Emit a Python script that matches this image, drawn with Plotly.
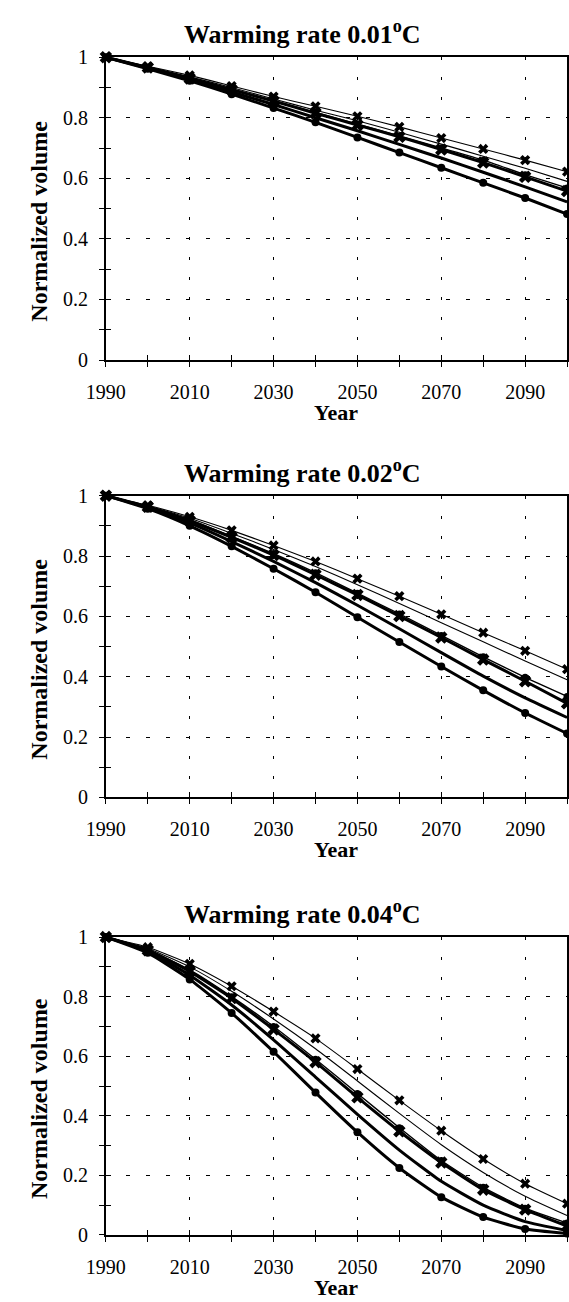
import plotly.graph_objects as go

# ---------------- data ----------------
years = [1990, 2000, 2010, 2020, 2030, 2040, 2050, 2060, 2070, 2080, 2090, 2100]
rates = ["0.01", "0.02", "0.04"]

# Warming rate 0.01 C
r1_thin_x = [1, 0.970, 0.940, 0.905, 0.870, 0.838, 0.805, 0.770, 0.733, 0.697, 0.660, 0.622]
r1_thin = [1, 0.968, 0.935, 0.900, 0.862, 0.825, 0.790, 0.752, 0.713, 0.673, 0.633, 0.590]
r1_thin_dot = [1, 0.967, 0.932, 0.895, 0.857, 0.818, 0.779, 0.740, 0.700, 0.660, 0.612, 0.568]
r1_thick_x = [1, 0.966, 0.930, 0.893, 0.855, 0.815, 0.776, 0.737, 0.695, 0.652, 0.605, 0.558]
r1_thick = [1, 0.964, 0.926, 0.885, 0.844, 0.800, 0.757, 0.712, 0.667, 0.620, 0.572, 0.522]
r1_thick_dot = [1, 0.962, 0.922, 0.878, 0.832, 0.785, 0.735, 0.685, 0.635, 0.585, 0.535, 0.482]

# Warming rate 0.02 C
r2_thin_x = [1, 0.968, 0.930, 0.885, 0.835, 0.782, 0.725, 0.667, 0.607, 0.546, 0.486, 0.425]
r2_thin = [1, 0.966, 0.925, 0.875, 0.822, 0.765, 0.705, 0.643, 0.579, 0.516, 0.452, 0.390]
r2_thin_dot = [1, 0.964, 0.920, 0.865, 0.808, 0.745, 0.677, 0.608, 0.537, 0.466, 0.398, 0.335]
r2_thick_x = [1, 0.963, 0.917, 0.862, 0.803, 0.738, 0.671, 0.601, 0.530, 0.457, 0.385, 0.312]
r2_thick = [1, 0.960, 0.910, 0.848, 0.782, 0.712, 0.637, 0.559, 0.480, 0.402, 0.330, 0.265]
r2_thick_dot = [1, 0.957, 0.900, 0.832, 0.758, 0.680, 0.597, 0.515, 0.434, 0.355, 0.280, 0.212]

# Warming rate 0.04 C
r3_thin_x = [1, 0.966, 0.910, 0.835, 0.750, 0.660, 0.557, 0.452, 0.350, 0.255, 0.172, 0.105]
r3_thin = [1, 0.962, 0.900, 0.818, 0.725, 0.625, 0.517, 0.408, 0.303, 0.210, 0.130, 0.065]
r3_thin_dot = [1, 0.958, 0.890, 0.800, 0.700, 0.590, 0.475, 0.360, 0.250, 0.160, 0.090, 0.040]
r3_thick_x = [1, 0.956, 0.885, 0.795, 0.690, 0.580, 0.462, 0.348, 0.243, 0.152, 0.085, 0.030]
r3_thick = [1, 0.952, 0.872, 0.772, 0.655, 0.530, 0.405, 0.285, 0.180, 0.100, 0.045, 0.015]
r3_thick_dot = [1, 0.947, 0.858, 0.745, 0.615, 0.478, 0.345, 0.225, 0.127, 0.060, 0.020, 0.005]

panels = [
    [r1_thin_x, r1_thin, r1_thin_dot, r1_thick_x, r1_thick, r1_thick_dot],
    [r2_thin_x, r2_thin, r2_thin_dot, r2_thick_x, r2_thick, r2_thick_dot],
    [r3_thin_x, r3_thin, r3_thin_dot, r3_thick_x, r3_thick, r3_thick_dot],
]

# ---------------- styling ----------------
W, H = 569, 1302
FONT = "Liberation Serif"
styles = [
    dict(width=1.1, symbol="x", size=9, mode="lines+markers"),
    dict(width=1.1, symbol="circle", size=0, mode="lines"),
    dict(width=1.4, symbol="circle", size=7, mode="lines+markers"),
    dict(width=3.0, symbol="x", size=11, mode="lines+markers"),
    dict(width=3.0, symbol="circle", size=0, mode="lines"),
    dict(width=3.0, symbol="circle", size=8, mode="lines+markers"),
]
# pixel positions (top = value 1, bottom = value 0) of each plot area
plot_px = [(47, 355), (493, 800), (942, 1245)]
x_left, x_right = 89, 567

fig = go.Figure()
annotations = []
layout = {}

for i, series in enumerate(panels):
    n = i + 1
    xs = "x" if n == 1 else f"x{n}"
    ys = "y" if n == 1 else f"y{n}"
    for vals, st in zip(series, styles):
        fig.add_trace(go.Scatter(
            x=years, y=vals, mode=st["mode"], xaxis=xs, yaxis=ys,
            line=dict(color="black", width=st["width"], shape="spline", smoothing=0.5),
            marker=dict(color="black", symbol=st["symbol"], size=st["size"], line=dict(width=0)),
            cliponaxis=False, showlegend=False, hoverinfo="skip",
        ))
    # empty trace for inside-tick overlay axes
    ox = n + 3
    fig.add_trace(go.Scatter(x=[], y=[], xaxis=f"x{ox}", yaxis=f"y{ox}",
                             showlegend=False, hoverinfo="skip"))

    top, bot = plot_px[i]
    ydom = [1 - bot / H, 1 - top / H]
    xdom = [x_left / W, x_right / W]

    xkey = "xaxis" if n == 1 else f"xaxis{n}"
    ykey = "yaxis" if n == 1 else f"yaxis{n}"
    layout[xkey] = dict(
        domain=xdom, anchor=ys, range=[1990, 2100], tick0=1990, dtick=20,
        ticks="outside", ticklen=5, tickwidth=1.2, tickcolor="black",
        showline=True, linecolor="black", linewidth=1.6, mirror=True,
        showgrid=True, gridcolor="black", gridwidth=1, griddash="3px,17px",
        zeroline=False, ticklabelstandoff=8,
        tickfont=dict(family=FONT, size=20, color="black"),
        minor=dict(dtick=10, ticks="outside", ticklen=5, tickcolor="black", showgrid=False),
    )
    layout[ykey] = dict(
        domain=ydom, anchor=xs, range=[0, 1], tick0=0, dtick=0.2,
        ticks="outside", ticklen=5, tickwidth=1.2, tickcolor="black",
        showline=True, linecolor="black", linewidth=1.6, mirror=True,
        showgrid=True, gridcolor="black", gridwidth=1, griddash="4px,16px",
        zeroline=False, ticklabelstandoff=7,
        tickfont=dict(family=FONT, size=20, color="black"),
        minor=dict(dtick=0.1, ticks="outside", ticklen=5, tickcolor="black", showgrid=False),
    )
    # overlay axes providing the inner half of crossing ticks
    layout[f"xaxis{ox}"] = dict(
        overlaying=xs, anchor=f"y{ox}", range=[1990, 2100], tick0=1990, dtick=10,
        ticks="inside", ticklen=5, tickwidth=1.2, tickcolor="black", showticklabels=False,
        showgrid=False, showline=False, zeroline=False,
    )
    layout[f"yaxis{ox}"] = dict(
        overlaying=ys, anchor=f"x{ox}", range=[0, 1], tick0=0, dtick=0.1,
        ticks="inside", ticklen=5, tickwidth=1.2, tickcolor="black", showticklabels=False,
        showgrid=False, showline=False, zeroline=False,
    )

    annotations.append(dict(
        text=f"<b>Warming rate {rates[i]}<sup>o</sup>C</b>", x=293 / W, y=1 - (top - 25) / H,
        xref="paper", yref="paper", showarrow=False, xanchor="center", yanchor="middle",
        font=dict(family=FONT, size=26, color="black"),
    ))
    annotations.append(dict(
        text="<b>Year</b>", x=(x_left + x_right) / 2 / W, y=1 - (bot + 53) / H,
        xref="paper", yref="paper", showarrow=False, xanchor="center", yanchor="middle",
        font=dict(family=FONT, size=22, color="black"),
    ))
    annotations.append(dict(
        text="<b>Normalized volume</b>", x=20 / W, y=1 - ((top + bot) / 2 + 13) / H,
        xref="paper", yref="paper", showarrow=False, xanchor="center", yanchor="middle",
        textangle=-90, font=dict(family=FONT, size=24, color="black"),
    ))

fig.update_layout(
    width=W, height=H, margin=dict(l=0, r=0, t=0, b=0),
    paper_bgcolor="white", plot_bgcolor="white",
    annotations=annotations, showlegend=False,
    font=dict(family=FONT, color="black"),
    **layout,
)

fig.write_html("out.html", config={"displayModeBar": False},
               post_script="document.body.style.margin='0px';")
